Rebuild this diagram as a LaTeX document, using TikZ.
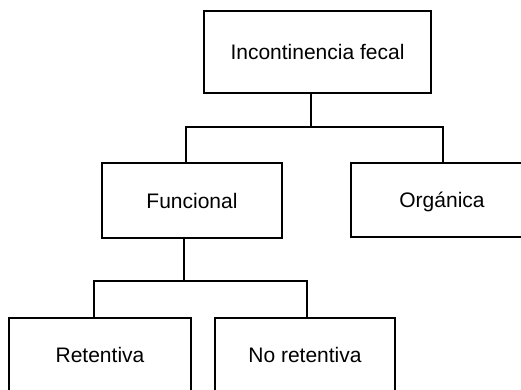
\documentclass[tikz,border=0pt]{standalone}
\usepackage{fontspec}
\setmainfont{Liberation Sans}
\begin{document}
\begin{tikzpicture}[x=1pt,y=-1pt,
  box/.style={draw=black,line width=1.7pt,fill=white,inner sep=0pt,text height=17pt,text depth=2pt,font=\fontsize{21}{25}\selectfont},
  link/.style={draw=black,line width=1.6pt}]
\useasboundingbox (0,0) rectangle (521,389);
\clip (0,0) rectangle (521,389);
\node[box,minimum width=227pt,minimum height=82pt] (top) at (317.5,52) {Incontinencia fecal};
\node[box,minimum width=180pt,minimum height=75pt] (fun) at (192,200.5) {Funcional};
\node[box,minimum width=182pt,minimum height=74pt] (org) at (442,200) {Orgánica};
\node[box,minimum width=182pt,minimum height=74pt] (ret) at (100,355) {Retentiva};
\node[box,minimum width=180pt,minimum height=74pt] (nor) at (305,355) {No retentiva};
\coordinate (j1) at (311,127);
\coordinate (j2) at (184,281);
\draw[link] (top.south -| j1) -- (j1);
\draw[link] (fun.north -| 186,0) |- (j1) -| (org.north -| 443,0);
\draw[link] (fun.south -| j2) -- (j2);
\draw[link] (ret.north -| 94,0) |- (j2) -| (nor.north -| 307,0);
\end{tikzpicture}
\end{document}
